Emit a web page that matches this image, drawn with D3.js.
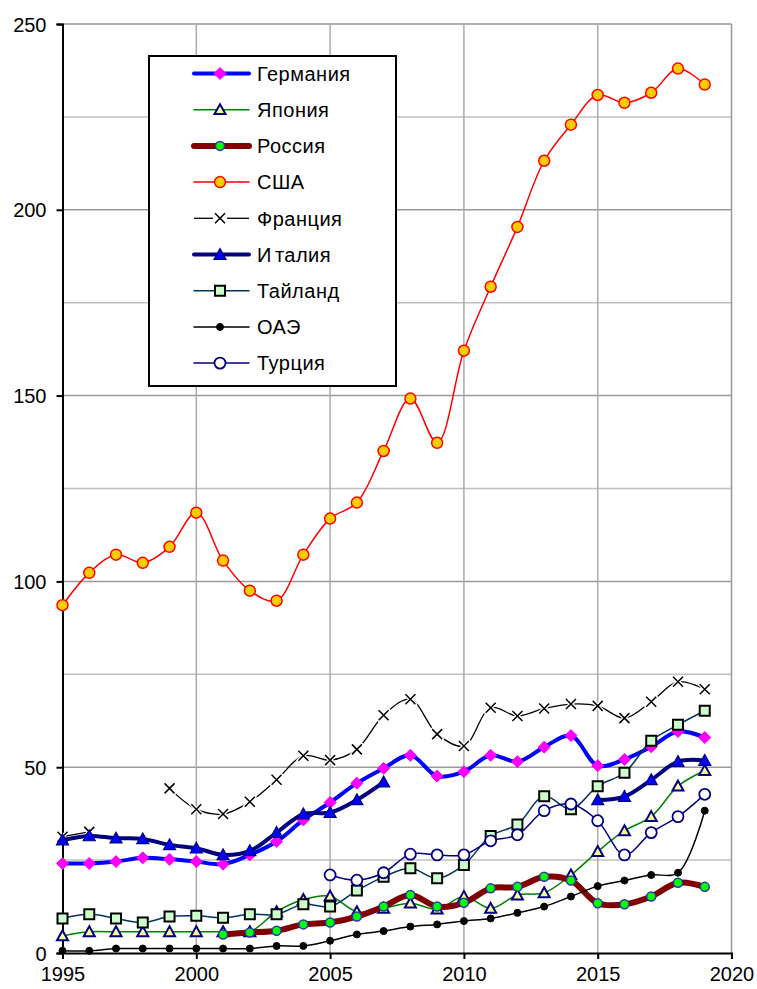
<!DOCTYPE html>
<html>
<head>
<meta charset="utf-8">
<script src="https://cdn.jsdelivr.net/npm/d3@7"></script>
<style>
html,body{margin:0;padding:0;background:#fff;}
svg{display:block;font-family:Arial,"Liberation Sans",sans-serif;}
</style>
</head>
<body>
<svg id="chart" width="757" height="989"></svg>
<script>
const years = d3.range(1995, 2020);
const yTicks = [0, 50, 100, 150, 200, 250];
const xTicks = [1995, 2000, 2005, 2010, 2015, 2020];

const germany  = [24.1,24.1,24.6,25.6,25.2,24.6,23.9,26.4,30.0,35.8,40.5,45.7,49.7,53.2,47.6,48.8,53.2,51.5,55.4,58.5,50.4,52.1,55.5,59.6,58.0];
const japan    = [4.6,5.7,5.7,5.7,5.7,5.7,5.7,5.7,11.1,14.4,15.3,11.1,12.0,13.4,11.8,15.2,12.0,15.6,16.2,21.0,27.3,32.9,36.7,44.9,49.1];
const russia   = [null,null,null,null,null,null,5.0,5.5,6.0,7.7,8.2,9.8,12.5,15.6,12.5,13.5,17.4,17.8,20.5,19.5,13.4,13.1,15.2,18.9,17.8];
const usa      = [93.6,102.3,107.2,105.0,109.3,118.5,105.6,97.5,94.8,107.2,116.9,121.2,135.1,149.2,137.3,162.1,179.3,195.4,213.2,222.9,230.9,228.8,231.5,238.0,233.7];
const france   = [31.3,32.6,null,null,44.3,38.7,37.4,40.7,46.6,53.1,51.9,54.8,64.0,68.3,58.9,55.7,66.0,63.8,65.8,67.0,66.5,63.2,67.6,73.0,71.0];
const italy    = [30.4,31.5,30.9,30.7,29.1,28.2,26.4,27.5,32.4,37.4,37.8,41.2,46.0,null,null,null,null,null,null,null,41.2,42.1,46.6,51.5,51.8];
const thailand = [9.3,10.4,9.3,8.2,9.8,10.0,9.5,10.4,10.4,13.1,12.5,16.8,20.5,22.8,20.1,23.7,31.5,34.6,42.2,38.7,44.9,48.5,57.1,61.4,65.2];
const uae      = [0.6,0.6,1.2,1.2,1.2,1.2,1.2,1.2,1.9,1.9,3.3,5.0,5.9,7.1,7.7,8.6,9.3,10.8,12.5,15.2,18.0,19.5,21.0,21.6,38.3];
const turkey   = [null,null,null,null,null,null,null,null,null,null,21.0,19.6,21.6,26.6,26.4,26.4,30.2,31.8,38.3,40.1,35.6,26.4,32.4,36.7,42.7];

const seriesNames = ["Германия","Япония","Россия","США","Франция","Италия","Тайланд","ОАЭ","Турция"];
const seriesValues = [germany, japan, russia, usa, france, italy, thailand, uae, turkey];
const styles = [
  {line:"#0000ff", w:4,   marker:"diamond",  size:12, fill:"#ff00ff", stroke:"#ff00ff", sw:1},
  {line:"#008000", w:1.5, marker:"triangle", size:11, fill:"#ffff99", stroke:"#000080", sw:2},
  {line:"#800000", w:6,   marker:"circle",   size:9,  fill:"#00ff00", stroke:"#3333aa", sw:1.5},
  {line:"#ff0000", w:1.5, marker:"circle",   size:11, fill:"#ffcc00", stroke:"#ff0000", sw:1.5},
  {line:"#000000", w:1.3, marker:"x",        size:10, fill:"none",    stroke:"#000000", sw:1.5},
  {line:"#000080", w:4,   marker:"triangle", size:12, fill:"#0000ff", stroke:"#000080", sw:1.2},
  {line:"#003366", w:1.5, marker:"square",   size:10, fill:"#ccffcc", stroke:"#000000", sw:2},
  {line:"#000000", w:1.5, marker:"circle",   size:7,  fill:"#000000", stroke:"#000000", sw:1},
  {line:"#000080", w:1.5, marker:"circle",   size:11, fill:"#ffffff", stroke:"#000080", sw:1.8}
];

const svg = d3.select("#chart");
const L = 62.5, R = 731.5, T = 24, B = 953;
const x = d3.scaleLinear().domain([1995, 2020]).range([L, R]);
const y = d3.scaleLinear().domain([0, 250]).range([B, T]);

// grid
const g = svg.append("g");
d3.range(25, 251, 25).forEach(v => {
  g.append("line").attr("x1", L).attr("x2", R).attr("y1", y(v)).attr("y2", y(v))
    .attr("stroke", v % 50 === 0 ? "#999999" : "#c0c0c0").attr("stroke-width", 1.5);
});
xTicks.slice(1).forEach(v => {
  g.append("line").attr("x1", x(v)).attr("x2", x(v)).attr("y1", T).attr("y2", B)
    .attr("stroke", v === 2020 ? "#999999" : "#aaaaaa").attr("stroke-width", 1.5);
});

// axes
const yAxis = d3.axisLeft(y).tickValues(yTicks).tickSize(6).tickPadding(10).tickFormat(d3.format("d"));
const xAxis = d3.axisBottom(x).tickValues(xTicks).tickSize(6).tickPadding(8).tickFormat(d3.format("d"));
const ya = svg.append("g").attr("transform", `translate(${L},0)`).call(yAxis);
const xa = svg.append("g").attr("transform", `translate(0,${B})`).call(xAxis);
[ya, xa].forEach(a => {
  a.select(".domain").attr("stroke", "#000").attr("stroke-width", 2);
  a.selectAll(".tick line").attr("stroke", "#000").attr("stroke-width", 2);
  a.selectAll(".tick text").attr("fill", "#000").attr("font-size", 20).attr("font-family", "Arial, 'Liberation Sans', sans-serif");
});
ya.selectAll(".tick text").attr("dy", "0.35em");

function markerPath(type, s) {
  const h = s / 2;
  switch (type) {
    case "diamond": return `M0,${-h}L${h},0L0,${h}L${-h},0Z`;
    case "triangle": return `M0,${-h}L${h},${h*0.8}L${-h},${h*0.8}Z`;
    case "square": return `M${-h},${-h}H${h}V${h}H${-h}Z`;
    case "x": return `M${-h},${-h}L${h},${h}M${-h},${h}L${h},${-h}`;
    default: return null;
  }
}
function drawMarker(sel, st, cx, cy, halo) {
  if (st.marker === "circle") {
    sel.append("circle").attr("cx", cx).attr("cy", cy).attr("r", st.size / 2)
      .attr("fill", st.fill).attr("stroke", st.stroke).attr("stroke-width", st.sw);
  } else {
    if (st.marker === "x" && halo) {
      sel.append("path").attr("d", markerPath("x", st.size + 2)).attr("transform", `translate(${cx},${cy})`)
        .attr("fill", "none").attr("stroke", "#fff").attr("stroke-width", 4);
    }
    sel.append("path").attr("d", markerPath(st.marker, st.size)).attr("transform", `translate(${cx},${cy})`)
      .attr("fill", st.fill).attr("stroke", st.stroke).attr("stroke-width", st.sw).attr("stroke-linejoin", "miter");
  }
}

const line = d3.line()
  .defined(d => d.v !== null)
  .x(d => x(d.year)).y(d => y(d.v))
  .curve(d3.curveCatmullRom.alpha(0.5));

seriesValues.forEach((vals, i) => {
  const st = styles[i];
  const data = years.map((yr, j) => ({year: yr, v: vals[j]}));
  const sg = svg.append("g");
  sg.append("path").datum(data).attr("d", line)
    .attr("fill", "none").attr("stroke", st.line).attr("stroke-width", st.w)
    .attr("stroke-linejoin", "round").attr("stroke-linecap", "round");
  data.filter(d => d.v !== null).forEach(d => drawMarker(sg, st, x(d.year), y(d.v), true));
});

// legend
const lg = svg.append("g");
lg.append("rect").attr("x", 149).attr("y", 56).attr("width", 247).attr("height", 330)
  .attr("fill", "#fff").attr("stroke", "#000").attr("stroke-width", 2);
seriesNames.forEach((name, i) => {
  const st = styles[i];
  const cy = 73.5 + i * 36.2;
  if (st.marker === "x") {
    lg.append("line").attr("x1", 194).attr("x2", 213).attr("y1", cy).attr("y2", cy).attr("stroke", st.line).attr("stroke-width", st.w);
    lg.append("line").attr("x1", 227).attr("x2", 249).attr("y1", cy).attr("y2", cy).attr("stroke", st.line).attr("stroke-width", st.w);
  } else {
    lg.append("line").attr("x1", 194).attr("x2", 249).attr("y1", cy).attr("y2", cy)
      .attr("stroke", st.line).attr("stroke-width", st.w).attr("stroke-linecap", "round");
  }
  drawMarker(lg, st, 220, cy, false);
  const t = lg.append("text").attr("x", 257).attr("y", cy).attr("dy", "0.36em")
    .attr("font-size", 20).attr("letter-spacing", 0.5).attr("fill", "#000");
  if (name === "Италия") {
    t.append("tspan").text(name.slice(0, 1));
    t.append("tspan").attr("dx", 3).text(name.slice(1));
  } else {
    t.text(name);
  }
});
</script>
</body>
</html>
